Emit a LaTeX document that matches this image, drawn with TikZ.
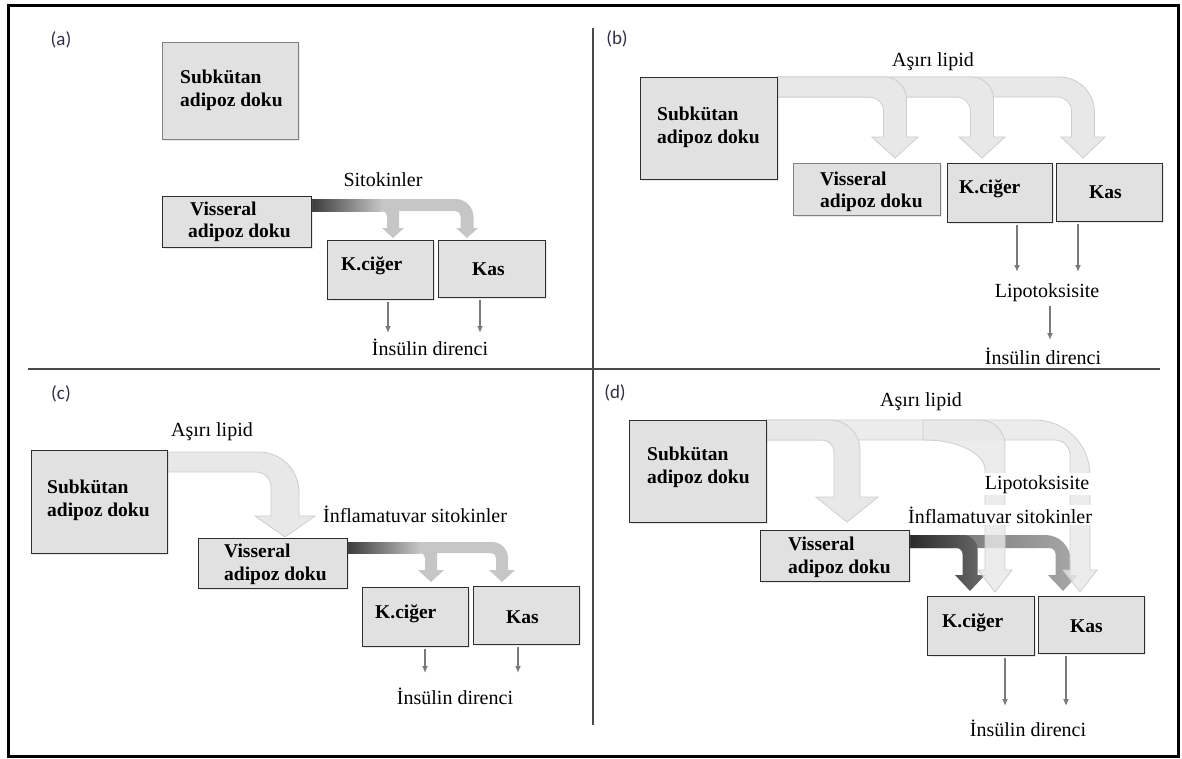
\documentclass[tikz,border=0pt]{standalone}
\usepackage{fontspec}
\setmainfont{Liberation Serif}
\newfontfamily\labfont{Carlito}
\usetikzlibrary{arrows.meta,shadows}
\definecolor{boxfill}{HTML}{E1E1E1}
\definecolor{boxline}{HTML}{2E2E2E}
\definecolor{arrgray}{HTML}{7A7A7A}
\definecolor{darklight}{HTML}{C6C6C6}
\definecolor{gA}{HTML}{3A3A3A}
\definecolor{lightfill}{HTML}{E8E8E8}
\definecolor{lightline}{HTML}{CDCDCD}
\definecolor{dA}{HTML}{2A2A2A}
\definecolor{dB}{HTML}{6A6A6A}
\definecolor{dC}{HTML}{A8A8A8}
\definecolor{labcol}{HTML}{303045}
\definecolor{divgray}{HTML}{4A4A4A}

\newcommand{\farad}[3]{\def\faR{#1}\def\farh{#2}\def\farv{#3}}
% #1 style, #2 x0, #3 ytop, #4 band width, #5 xc, #6 shaft width, #7 head width, #8 yhead, #9 ytip
\newcommand{\fatarrow}[9]{%
 \pgfmathsetmacro{\faxr}{#5+#6/2}%
 \pgfmathsetmacro{\faxl}{#5-#6/2}%
 \pgfmathsetmacro{\fayb}{#3+#4}%
 \path[#1] (#2,#3) -- (\faxr-\faR,#3) .. controls (\faxr-0.45*\faR,#3) and (\faxr,#3+0.45*\faR) .. (\faxr,#3+\faR)
   -- (\faxr,#8) -- (#5+#7/2,#8) -- (#5,#9) -- (#5-#7/2,#8) -- (\faxl,#8)
   -- (\faxl,\fayb+\farv) .. controls (\faxl,\fayb+0.45*\farv) and (\faxl-0.45*\farh,\fayb) .. (\faxl-\farh,\fayb)
   -- (#2,\fayb) -- cycle;}

\tikzset{
 box/.style={draw=boxline, fill=boxfill, line width=1.4pt, inner sep=0pt, anchor=north west,
   drop shadow={shadow xshift=1.5pt, shadow yshift=-1.5pt, opacity=0.18}},
 btxt/.style={inner sep=0pt, anchor=base west, font=\fontsize{19.5}{22}\selectfont\bfseries},
 rtxt/.style={inner sep=0pt, anchor=base, font=\fontsize{20}{23}\selectfont},
 wtxt/.style={rtxt, fill=white, inner sep=2pt},
 plab/.style={inner sep=0pt, anchor=base, font=\labfont\fontsize{19}{22}\selectfont, text=labcol},
 thinarr/.style={draw=arrgray, line width=1.6pt, -{Latex[length=7pt,width=6pt]}, shorten <=2pt},
 lightarr/.style={fill=lightfill, draw=lightline, line width=0.8pt},
 lightarrd/.style={fill=lightfill, draw=lightline, line width=0.8pt, fill opacity=0.8},
 darkarr/.style={fill=darklight},
 divline/.style={draw=divgray, line width=2pt}
}

\begin{document}
\begin{tikzpicture}[x=1pt,y=-1pt]
\useasboundingbox (0,0) rectangle (1182,758);
\fill[white] (0,0) rectangle (1182,758);

% ---------- (a) ----------
\farad{18}{5}{5}
\fatarrow{darkarr}{311}{199}{12}{467}{13}{22}{228}{238}
\farad{10}{5}{5}
\fatarrow{darkarr}{311}{199}{12}{393}{12}{22}{228}{238}
\shade[left color=gA, right color=darklight] (311,199) rectangle (382,211);

\node[box, minimum width=136pt, minimum height=97pt, draw=gray] (sa) at (162,42) {};
\node[box, minimum width=149pt, minimum height=51pt] (va) at (162,196) {};
\node[box, minimum width=106pt, minimum height=59pt] (ka) at (327,240) {};
\node[box, minimum width=107pt, minimum height=57pt] (ma) at (438,240) {};

\node[plab] (la) at (61,45) {(a)};
\node[btxt] (sa1) at (180,83) {Subkütan};
\node[btxt] (sa2) at (180,106) {adipoz doku};
\node[btxt] (va1) at (190,215) {Visseral};
\node[btxt] (va2) at (188,237) {adipoz doku};
\node[btxt] (ka1) at (341,270) {K.ciğer};
\node[btxt] (ma1) at (472,275) {Kas};
\node[rtxt] (sita) at (383,186) {Sitokinler};
\node[rtxt] (insa) at (430,355) {İnsülin direnci};
\coordinate (ta1) at (388,333);
\coordinate (ta2) at (480,333);
\draw[thinarr] (ka.south -| ta1) -- (ta1);
\draw[thinarr] (ma.south -| ta2) -- (ta2);

% ---------- (b) ----------
\farad{35}{14}{14}
\fatarrow{lightarr}{777}{77}{20}{1083}{23}{44}{137}{158}
\farad{22}{14}{14}
\fatarrow{lightarr}{777}{77}{20}{982}{23}{46}{137}{158}
\fatarrow{lightarr}{777}{77}{20}{895}{23}{46}{137}{158}

\node[box, minimum width=137pt, minimum height=102pt] (sb) at (640,77) {};
\node[box, minimum width=147pt, minimum height=52pt, draw=gray] (vb) at (793,163) {};
\node[box, minimum width=105pt, minimum height=59pt] (kb) at (947,163) {};
\node[box, minimum width=106pt, minimum height=58pt] (mb) at (1056,163) {};

\node[plab] (lb) at (617,44) {(b)};
\node[rtxt] (asb) at (933,66) {Aşırı lipid};
\node[btxt] (sb1) at (657,120) {Subkütan};
\node[btxt] (sb2) at (657,143) {adipoz doku};
\node[btxt] (vb1) at (820,185) {Visseral};
\node[btxt] (vb2) at (820,207) {adipoz doku};
\node[btxt] (kb1) at (959,193) {K.ciğer};
\node[btxt] (mb1) at (1089,198) {Kas};
\node[rtxt] (lipb) at (1047,297) {Lipotoksisite};
\node[rtxt] (insb) at (1043,364) {İnsülin direnci};
\coordinate (tb1) at (1017,272);
\coordinate (tb2) at (1078,272);
\coordinate (tb3) at (1050,340);
\draw[thinarr] (kb.south -| tb1) -- (tb1);
\draw[thinarr] (mb.south -| tb2) -- (tb2);
\draw[thinarr, shorten <=5pt] (lipb.south -| tb3) -- (tb3);

% ---------- (c) ----------
\farad{40}{15}{15}
\fatarrow{lightarr}{167}{452}{20}{285}{28}{60}{516}{537}
\farad{16}{5}{5}
\fatarrow{darkarr}{347}{542}{11}{502}{12}{26}{570}{582}
\farad{10}{5}{5}
\fatarrow{darkarr}{347}{542}{11}{431}{12}{26}{570}{582}
\shade[left color=gA, right color=darklight] (347,542) rectangle (420,553);

\node[box, minimum width=136pt, minimum height=103pt] (sc) at (31,450) {};
\node[box, minimum width=149pt, minimum height=50pt] (vc) at (198,538) {};
\node[box, minimum width=106pt, minimum height=59pt] (kc) at (362,587) {};
\node[box, minimum width=106pt, minimum height=58pt] (mc) at (473,586) {};

\node[plab] (lc) at (61,399) {(c)};
\node[rtxt] (asc) at (212,436) {Aşırı lipid};
\node[btxt] (sc1) at (47,493) {Subkütan};
\node[btxt] (sc2) at (47,516) {adipoz doku};
\node[btxt] (vc1) at (224,557) {Visseral};
\node[btxt] (vc2) at (224,580) {adipoz doku};
\node[btxt] (kc1) at (375,618) {K.ciğer};
\node[btxt] (mc1) at (506,623) {Kas};
\node[rtxt] (infc) at (415,522) {İnflamatuvar sitokinler};
\node[rtxt] (insc) at (455,704) {İnsülin direnci};
\coordinate (tc1) at (425,673);
\coordinate (tc2) at (518,673);
\draw[thinarr] (kc.south -| tc1) -- (tc1);
\draw[thinarr] (mc.south -| tc2) -- (tc2);

% ---------- (d) ----------
\farad{25}{6}{6}
\fatarrow{left color=dB, right color=dC}{909}{535}{13}{1063}{15}{30}{575}{591}
\farad{14}{6}{6}
\fatarrow{left color=dA, right color=dB}{909}{535}{13}{970}{15}{30}{575}{591}

\farad{55}{15}{15}
\fatarrow{lightarrd}{766}{420}{20}{1080}{20}{34}{570}{592}
\farad{25}{60}{30}
\fatarrow{lightarrd}{923}{420}{20}{995}{20}{34}{570}{592}
\farad{30}{12}{12}
\fatarrow{lightarr}{766}{420}{20}{847}{26}{62}{497}{522}

\node[box, minimum width=137pt, minimum height=102pt] (sd) at (629,420) {};
\node[box, minimum width=149pt, minimum height=51pt] (vd) at (760,530) {};
\node[box, minimum width=107pt, minimum height=59pt] (kd) at (927,596) {};
\node[box, minimum width=106pt, minimum height=57pt] (md) at (1038,596) {};

\node[plab] (ld) at (615,398) {(d)};
\node[rtxt] (asd) at (921,406) {Aşırı lipid};
\node[btxt] (sd1) at (647,460) {Subkütan};
\node[btxt] (sd2) at (647,483) {adipoz doku};
\node[btxt] (vd1) at (788,550) {Visseral};
\node[btxt] (vd2) at (788,573) {adipoz doku};
\node[btxt] (kd1) at (942,627) {K.ciğer};
\node[btxt] (md1) at (1070,632) {Kas};
\node[wtxt] (lipd) at (1037,489) {Lipotoksisite};
\node[wtxt] (infd) at (1000,523) {İnflamatuvar sitokinler};
\node[rtxt] (insd) at (1028,736) {İnsülin direnci};
\coordinate (td1) at (1005,706);
\coordinate (td2) at (1066,706);
\draw[thinarr] (kd.south -| td1) -- (td1);
\draw[thinarr] (md.south -| td2) -- (td2);

% ---------- frame ----------
\draw[divline] (593,28) -- (593,725);
\draw[divline, line width=2.5pt] (28,369) -- (1160,369);
\draw[line width=3pt] (8.5,5.5) rectangle (1178.5,756);
\end{tikzpicture}
\end{document}
